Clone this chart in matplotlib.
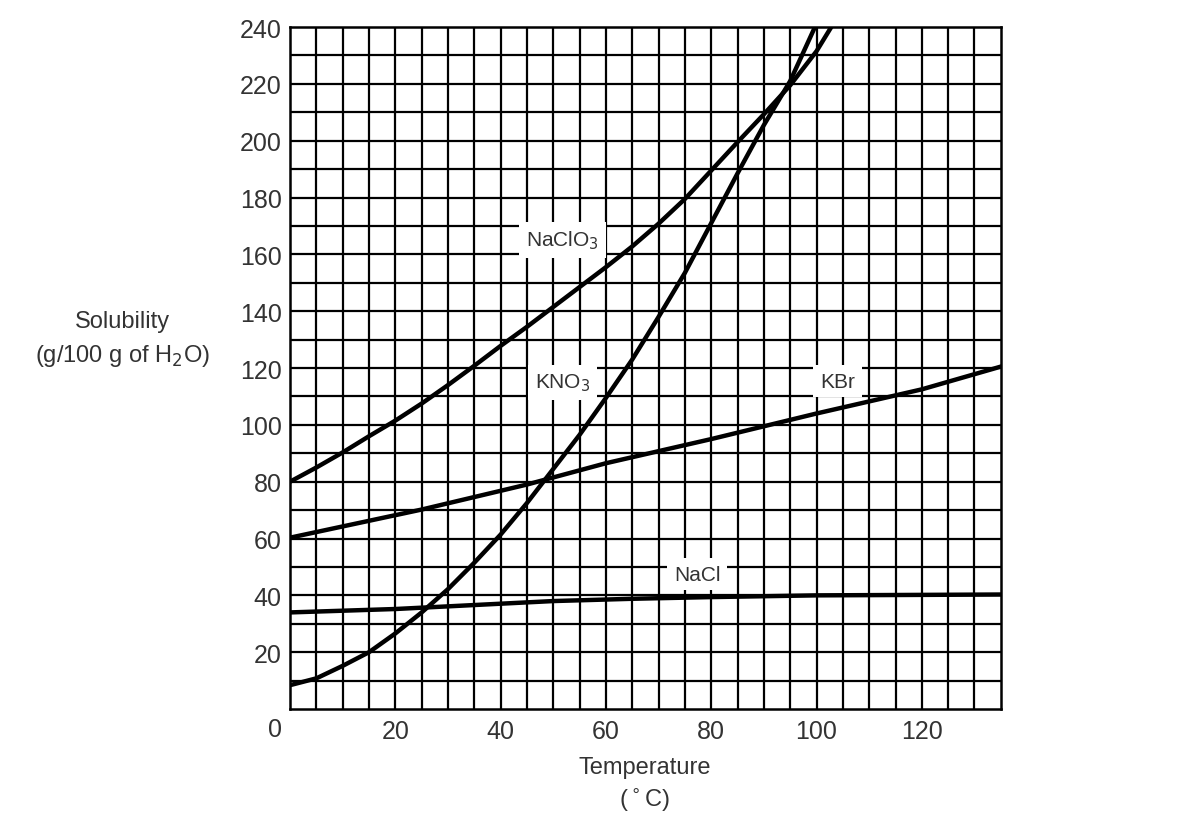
import matplotlib.pyplot as plt
import numpy as np

plt.rcParams['font.family'] = ['Liberation Sans', 'DejaVu Sans']

# solubility curves (temperature in C, g/100 g H2O)
naclo3_t = [0, 5, 10, 15, 20, 25, 30, 35, 40, 45, 50, 55, 60, 65, 70, 75, 80,
            85, 90, 95, 100, 102.8]
naclo3_s = [80, 85, 90.3, 96, 101.5, 107.5, 114, 120.8, 127.8, 134.5, 141.5,
            148.5, 155.5, 162.8, 170.8, 179.5, 189.5, 199.5, 209.3, 219.5, 231.5, 240]

kno3_t = [0, 5, 10, 15, 20, 25, 30, 35, 40, 45, 50, 55, 60, 65, 70, 75, 80,
          85, 90, 95, 99.7]
kno3_s = [8.4, 10.8, 15.2, 20, 26.6, 34, 42.2, 51.5, 61.4, 72.5, 84.5, 96.5,
          109.5, 123, 138, 153.5, 171, 188.5, 205.5, 221, 240]

kbr_t = [0, 25, 45, 60, 80, 100, 120, 135]
kbr_s = [60.3, 70.2, 79, 86.5, 95, 104, 112.5, 120.5]

nacl_t = [0, 20, 35, 50, 65, 80, 100, 135]
nacl_s = [34, 35.2, 36.6, 38, 38.8, 39.4, 40, 40.3]

labels = ['NaClO$_3$', 'KNO$_3$', 'KBr', 'NaCl']
label_t = [51.8, 51.8, 104, 77.3]
label_s = [165, 115, 115.4, 47.5]

xticks = [20, 40, 60, 80, 100, 120]
yticks = [20, 40, 60, 80, 100, 120, 140, 160, 180, 200, 220, 240]

txt = '#333333'

fig = plt.figure(figsize=(12, 8.29), dpi=100)
ax = fig.add_axes([0.2417, 0.1435, 0.834 - 0.2417, 0.9662 - 0.1435])

ax.set_xlim(0, 135)
ax.set_ylim(0, 240)

# grid
for x in np.arange(5, 135, 5):
    ax.axvline(x, color='black', lw=1.6, zorder=1)
for y in np.arange(10, 240, 10):
    ax.axhline(y, color='black', lw=1.6, zorder=1)
for s in ax.spines.values():
    s.set_linewidth(1.8)

for t, s in [(naclo3_t, naclo3_s), (kno3_t, kno3_s), (kbr_t, kbr_s), (nacl_t, nacl_s)]:
    ax.plot(t, s, color='black', lw=3.2, zorder=3, solid_joinstyle='round')

for lab, t, s in zip(labels, label_t, label_s):
    ax.text(t, s, lab, ha='center', va='center', fontsize=15, color=txt, zorder=4,
            bbox=dict(facecolor='white', edgecolor='none', pad=5))

ax.set_xticks(xticks)
ax.set_yticks(yticks)
ax.tick_params(length=0, labelsize=18, labelcolor=txt)
ax.tick_params(axis='x', pad=7)
ax.tick_params(axis='y', pad=6)
ax.text(-2.8, -7, '0', ha='center', va='center', fontsize=18, color=txt)

fig.text(122 / 1200, 1 - 322 / 829, 'Solubility', ha='center', va='center', fontsize=17, color=txt)
fig.text(122 / 1200, 1 - 356 / 829, '(g/100 g of H$_2$O)', ha='center', va='center', fontsize=17, color=txt)
fig.text(645 / 1200, 1 - 768 / 829, 'Temperature', ha='center', va='center', fontsize=17, color=txt)
fig.text(645 / 1200, 1 - 800 / 829, '($^\\circ$C)', ha='center', va='center', fontsize=17, color=txt)

fig.savefig('out.png', dpi=100)
